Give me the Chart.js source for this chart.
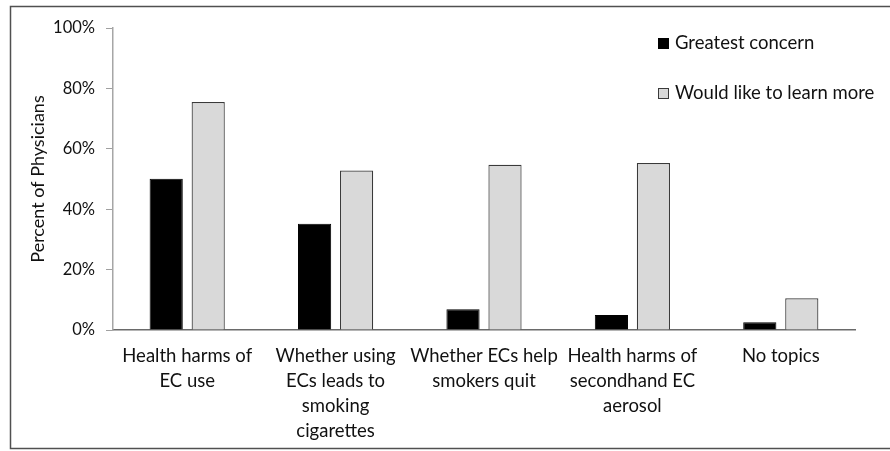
<!DOCTYPE html>
<html>
<head>
<meta charset="utf-8">
<script src="https://cdn.jsdelivr.net/npm/chart.js@4/dist/chart.umd.min.js"></script>
<style>
  html, body { margin: 0; padding: 0; background: #ffffff; }
  canvas { display: block; }
</style>
</head>
<body>
<canvas id="chart" width="890" height="451"></canvas>
<script>
// Topic categories (multi-line labels)
const topics = [
  ['Health harms of', 'EC use'],
  ['Whether using', 'ECs leads to', 'smoking', 'cigarettes'],
  ['Whether ECs help', 'smokers quit'],
  ['Health harms of', 'secondhand EC', 'aerosol'],
  ['No topics']
];

// Percent of physicians per topic
const greatestConcern = [50.1, 35.2, 6.9, 5.0, 2.6];
const learnMore = [75.5, 52.8, 54.7, 55.3, 10.5];

const seriesNames = ['Greatest concern', 'Would like to learn more'];
const yTicks = [0, 20, 40, 60, 80, 100];

const FONT = 'Lato, "DejaVu Sans", sans-serif';
const TEXT = '#111111';

// Outer frame around the figure
const framePlugin = {
  id: 'frame',
  afterDraw(chart) {
    const ctx = chart.ctx;
    ctx.save();
    ctx.strokeStyle = '#505050';
    ctx.lineWidth = 1.5;
    ctx.strokeRect(10.5, 6.5, 900, 442);
    ctx.restore();
  }
};

// Vertical legend inside the plot, top right
const insideLegend = {
  id: 'insideLegend',
  afterDraw(chart) {
    const ctx = chart.ctx;
    ctx.save();
    ctx.font = '18.5px ' + FONT;
    ctx.textBaseline = 'middle';
    ctx.textAlign = 'left';
    chart.data.datasets.forEach((ds, i) => {
      const cy = 43.5 + i * 50;
      const x = 658;
      ctx.fillStyle = ds.backgroundColor;
      ctx.fillRect(x, cy - 5.5, 11, 11);
      ctx.strokeStyle = ds.borderColor;
      ctx.lineWidth = 1;
      ctx.strokeRect(x + 0.5, cy - 5, 10, 10);
      ctx.fillStyle = TEXT;
      ctx.fillText(ds.label, 675, cy);
    });
    ctx.restore();
  }
};

new Chart(document.getElementById('chart'), {
  type: 'bar',
  data: {
    labels: topics,
    datasets: [
      {
        label: seriesNames[0],
        data: greatestConcern,
        backgroundColor: '#000000',
        borderColor: '#000000',
        borderWidth: 1,
        categoryPercentage: 0.566,
        barPercentage: 0.79
      },
      {
        label: seriesNames[1],
        data: learnMore,
        backgroundColor: '#d9d9d9',
        borderColor: '#3a3a3a',
        borderWidth: 1.2,
        categoryPercentage: 0.566,
        barPercentage: 0.79
      }
    ]
  },
  options: {
    responsive: false,
    animation: false,
    layout: { padding: { left: 10, right: 35, top: 28, bottom: 0 } },
    plugins: {
      legend: { display: false },
      tooltip: { enabled: false }
    },
    scales: {
      x: {
        grid: { display: false, drawTicks: false },
        border: { display: true, color: '#6a6a6a', width: 1.5 },
        ticks: {
          color: TEXT,
          font: { family: FONT, size: 18.5, lineHeight: '25px' },
          padding: 14,
          maxRotation: 0,
          autoSkip: false
        },
        afterFit(scale) { scale.height = 121; }
      },
      y: {
        min: 0,
        max: 100,
        afterBuildTicks(scale) { scale.ticks = yTicks.map(v => ({ value: v })); },
        grid: {
          drawOnChartArea: false,
          drawTicks: true,
          tickLength: 7,
          color: '#a0a0a0'
        },
        border: { display: true, color: '#a6a6a6', width: 1.5 },
        ticks: {
          color: TEXT,
          font: { family: FONT, size: 16.5 },
          padding: 11,
          callback: v => v + '%'
        },
        title: {
          display: true,
          text: 'Percent of Physicians',
          color: TEXT,
          font: { family: FONT, size: 18 },
          padding: { top: 17, bottom: 0 }
        },
        afterFit(scale) { scale.width = 103; }
      }
    }
  },
  plugins: [framePlugin, insideLegend]
});
</script>
</body>
</html>
